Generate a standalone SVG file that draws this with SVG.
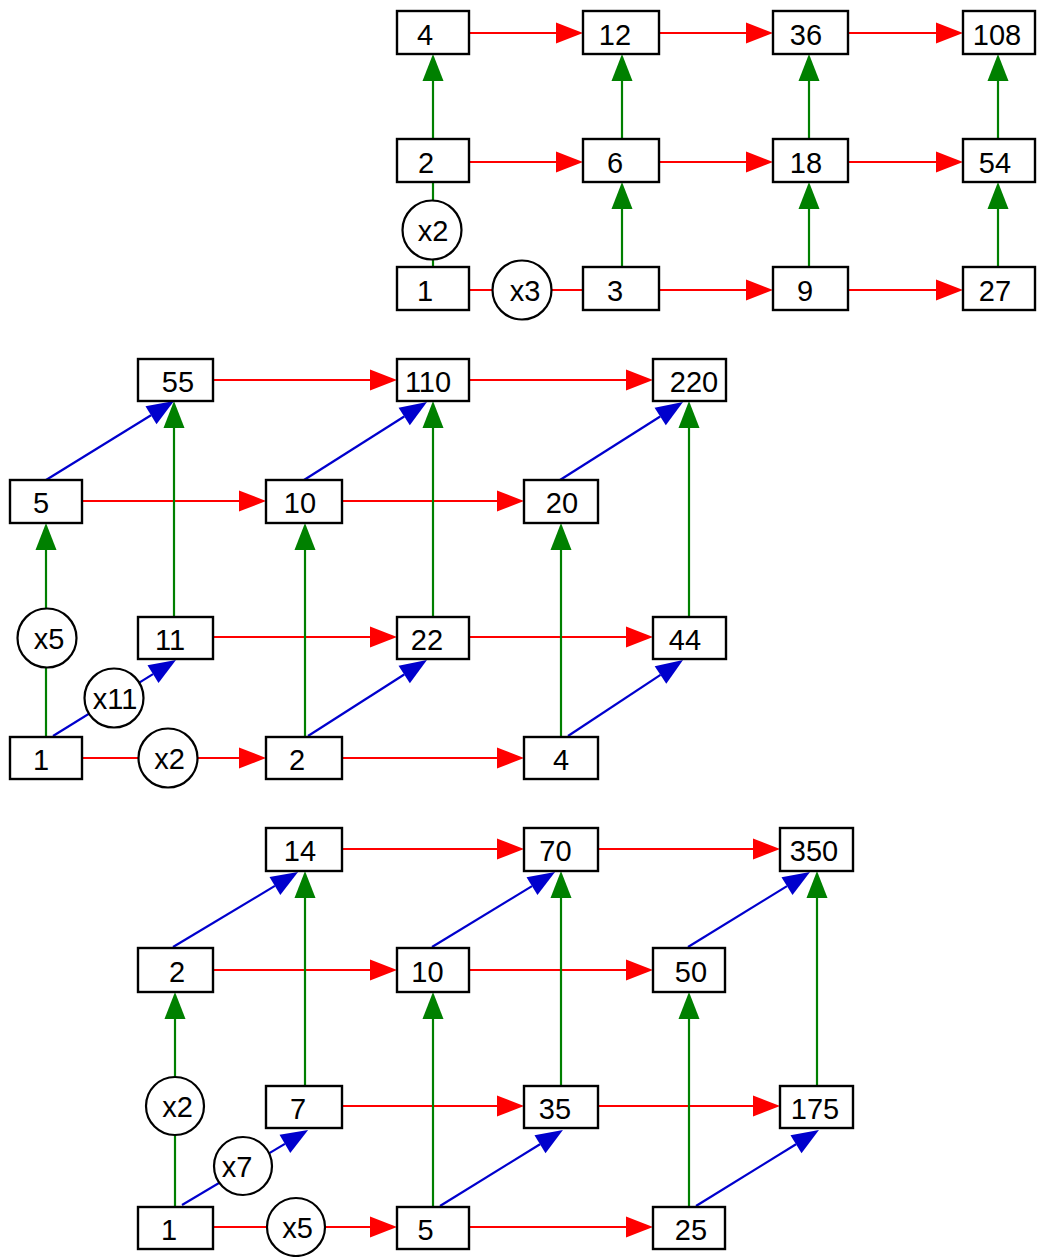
<svg xmlns="http://www.w3.org/2000/svg" width="1037" height="1257" viewBox="0 0 1037 1257">
<style>
.box{fill:#fff;stroke:#000;stroke-width:2.4}
.circ{fill:#fff;stroke:#000;stroke-width:2.2}
text{font-family:"Liberation Sans",Arial,sans-serif;font-size:29px;fill:#000;text-anchor:middle}
.r{stroke:#f00;stroke-width:2.2;fill:none}
.g{stroke:#008000;stroke-width:2.2;fill:none}
.b{stroke:#0000cd;stroke-width:2.2;fill:none}
.r.a{marker-end:url(#ar)}
.g.a{marker-end:url(#ag)}
.b.a{marker-end:url(#ab)}
</style>
<defs>
<marker id="ar" markerUnits="userSpaceOnUse" markerWidth="28" markerHeight="22" refX="0" refY="10.5" orient="auto" overflow="visible"><path d="M0,0 L27,10.5 L0,21 Z" fill="#f00"/></marker>
<marker id="ag" markerUnits="userSpaceOnUse" markerWidth="28" markerHeight="22" refX="0" refY="10.5" orient="auto" overflow="visible"><path d="M0,0 L27,10.5 L0,21 Z" fill="#008000"/></marker>
<marker id="ab" markerUnits="userSpaceOnUse" markerWidth="28" markerHeight="22" refX="0" refY="10.5" orient="auto" overflow="visible"><path d="M0,0 L27,10.5 L0,21 Z" fill="#0000cd"/></marker>
</defs>
<rect width="1037" height="1257" fill="#fff"/>
<g id="connectors">
<!-- top -->
<path class="r a" d="M469,33 H556"/>
<path class="r a" d="M659,33 H746"/>
<path class="r a" d="M848,33 H936"/>
<path class="r a" d="M469,162 H556"/>
<path class="r a" d="M659,162 H746"/>
<path class="r a" d="M848,162 H936"/>
<path class="r" d="M469,290 H583"/>
<path class="r a" d="M659,290 H746"/>
<path class="r a" d="M848,290 H936"/>
<path class="g" d="M433,267 V182"/>
<path class="g a" d="M433,139 V81"/>
<path class="g a" d="M622,267 V209"/>
<path class="g a" d="M622,139 V81"/>
<path class="g a" d="M809,267 V209"/>
<path class="g a" d="M809,139 V81"/>
<path class="g a" d="M998,267 V209"/>
<path class="g a" d="M998,139 V81"/>
<!-- middle -->
<path class="r a" d="M213,380 H370"/>
<path class="r a" d="M469,380 H626"/>
<path class="r a" d="M82,501 H239"/>
<path class="r a" d="M342,501 H497"/>
<path class="r a" d="M213,637 H370"/>
<path class="r a" d="M469,637 H626"/>
<path class="r a" d="M82,758 H239"/>
<path class="r a" d="M342,758 H497"/>
<path class="g a" d="M46,737 V550"/>
<path class="g a" d="M174,617 V428"/>
<path class="g a" d="M305,737 V550"/>
<path class="g a" d="M433,617 V428"/>
<path class="g a" d="M561,737 V550"/>
<path class="g a" d="M689,617 V428"/>
<path class="b a" d="M46,480 L151,415.2"/>
<path class="b a" d="M304,480 L404.2,416.5"/>
<path class="b a" d="M560,480 L660.2,416.5"/>
<path class="b a" d="M53,736 L153,674.1"/>
<path class="b a" d="M308,736 L404.2,674.5"/>
<path class="b a" d="M568,736 L660.5,674.9"/>
<!-- bottom -->
<path class="r a" d="M342,849 H497"/>
<path class="r a" d="M598,849 H753"/>
<path class="r a" d="M213,970 H370"/>
<path class="r a" d="M469,970 H626"/>
<path class="r a" d="M342,1106 H497"/>
<path class="r a" d="M598,1106 H753"/>
<path class="r a" d="M213,1227 H370"/>
<path class="r a" d="M469,1227 H626"/>
<path class="g a" d="M175,1207 V1019"/>
<path class="g a" d="M305,1086 V898"/>
<path class="g a" d="M433,1207 V1019"/>
<path class="g a" d="M561,1086 V898"/>
<path class="g a" d="M689,1207 V1019"/>
<path class="g a" d="M817,1086 V898"/>
<path class="b a" d="M173,947 L274.9,885.9"/>
<path class="b a" d="M182,1205 L284.9,1143.9"/>
<path class="b a" d="M432,947 L532,886.1"/>
<path class="b a" d="M440,1206 L540,1144.2"/>
<path class="b a" d="M688,947 L787,886.1"/>
<path class="b a" d="M696,1206 L796,1144.2"/>
</g>
<!-- top nodes -->
<g id="t4"><rect class="box" x="397" y="11" width="72" height="43"/><text x="425" y="44.5">4</text></g>
<g id="t12"><rect class="box" x="583" y="11" width="76" height="43"/><text x="615" y="44.5">12</text></g>
<g id="t36"><rect class="box" x="773" y="11" width="75" height="43"/><text x="806" y="44.5">36</text></g>
<g id="t108"><rect class="box" x="963" y="11" width="72" height="43"/><text x="997" y="44.5">108</text></g>
<g id="t2"><rect class="box" x="397" y="139" width="72" height="43"/><text x="426" y="172.5">2</text></g>
<g id="t6"><rect class="box" x="583" y="139" width="76" height="43"/><text x="615" y="172.5">6</text></g>
<g id="t18"><rect class="box" x="773" y="139" width="75" height="43"/><text x="806" y="172.5">18</text></g>
<g id="t54"><rect class="box" x="963" y="139" width="72" height="43"/><text x="995" y="172.5">54</text></g>
<g id="t1"><rect class="box" x="397" y="267" width="72" height="43"/><text x="425" y="300.5">1</text></g>
<g id="t3"><rect class="box" x="583" y="267" width="76" height="43"/><text x="615" y="300.5">3</text></g>
<g id="t9"><rect class="box" x="773" y="267" width="75" height="43"/><text x="805" y="300.5">9</text></g>
<g id="t27"><rect class="box" x="963" y="267" width="72" height="43"/><text x="995" y="300.5">27</text></g>
<g id="tx2"><circle class="circ" cx="432" cy="230" r="29.5"/><text x="433" y="241">x2</text></g>
<g id="tx3"><circle class="circ" cx="522" cy="290" r="29.5"/><text x="525" y="301">x3</text></g>
<!-- middle nodes -->
<g id="m55"><rect class="box" x="138" y="359" width="75" height="42"/><text x="178" y="392">55</text></g>
<g id="m110"><rect class="box" x="397" y="359" width="72" height="42"/><text x="428" y="392">110</text></g>
<g id="m220"><rect class="box" x="653" y="359" width="73" height="42"/><text x="694" y="392">220</text></g>
<g id="m5"><rect class="box" x="10" y="480" width="72" height="43"/><text x="41" y="513">5</text></g>
<g id="m10"><rect class="box" x="266" y="480" width="76" height="43"/><text x="300" y="513">10</text></g>
<g id="m20"><rect class="box" x="524" y="480" width="74" height="43"/><text x="562" y="513">20</text></g>
<g id="m11"><rect class="box" x="138" y="617" width="75" height="42"/><text x="170" y="650">11</text></g>
<g id="m22"><rect class="box" x="397" y="617" width="72" height="42"/><text x="427" y="650">22</text></g>
<g id="m44"><rect class="box" x="653" y="617" width="73" height="42"/><text x="685" y="650">44</text></g>
<g id="m1"><rect class="box" x="10" y="737" width="72" height="42"/><text x="41" y="770">1</text></g>
<g id="m2"><rect class="box" x="266" y="737" width="76" height="42"/><text x="297" y="770">2</text></g>
<g id="m4"><rect class="box" x="524" y="737" width="74" height="42"/><text x="561" y="770">4</text></g>
<g id="mx5"><circle class="circ" cx="47" cy="638" r="29.5"/><text x="49" y="649">x5</text></g>
<g id="mx11"><circle class="circ" cx="114" cy="698" r="29.5"/><text x="115" y="709">x11</text></g>
<g id="mx2"><circle class="circ" cx="168" cy="758" r="29.5"/><text x="169.5" y="769">x2</text></g>
<!-- bottom nodes -->
<g id="b14"><rect class="box" x="266" y="828" width="76" height="43"/><text x="300" y="861">14</text></g>
<g id="b70"><rect class="box" x="524" y="828" width="74" height="43"/><text x="555.5" y="861">70</text></g>
<g id="b350"><rect class="box" x="780" y="828" width="73" height="43"/><text x="814" y="861">350</text></g>
<g id="b2"><rect class="box" x="138" y="948" width="75" height="44"/><text x="177" y="982">2</text></g>
<g id="b10"><rect class="box" x="397" y="948" width="72" height="44"/><text x="427.5" y="982">10</text></g>
<g id="b50"><rect class="box" x="653" y="948" width="72" height="44"/><text x="691" y="982">50</text></g>
<g id="b7"><rect class="box" x="266" y="1086" width="76" height="42"/><text x="298" y="1119">7</text></g>
<g id="b35"><rect class="box" x="524" y="1086" width="74" height="42"/><text x="555" y="1119">35</text></g>
<g id="b175"><rect class="box" x="780" y="1086" width="73" height="42"/><text x="815" y="1119">175</text></g>
<g id="b1"><rect class="box" x="138" y="1207" width="75" height="42"/><text x="169" y="1240">1</text></g>
<g id="b5"><rect class="box" x="397" y="1207" width="72" height="42"/><text x="425.5" y="1240">5</text></g>
<g id="b25"><rect class="box" x="653" y="1207" width="72" height="42"/><text x="691" y="1240">25</text></g>
<g id="bx2"><circle class="circ" cx="175" cy="1106" r="29"/><text x="177.5" y="1117">x2</text></g>
<g id="bx7"><circle class="circ" cx="243" cy="1166" r="29"/><text x="237" y="1177">x7</text></g>
<g id="bx5"><circle class="circ" cx="296" cy="1227" r="29"/><text x="297.5" y="1238">x5</text></g>
</svg>
